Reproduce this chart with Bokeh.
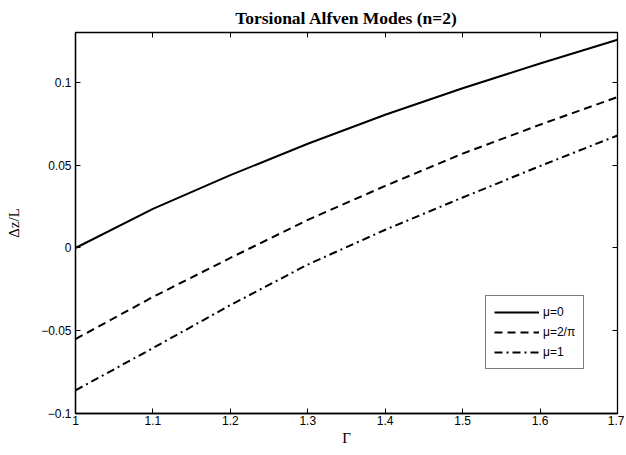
from bokeh.plotting import figure
from bokeh.models import LinearAxis, Range1d, FixedTicker, Legend, LegendItem
from bokeh.embed import file_html
from bokeh.resources import INLINE

gamma = [1.0, 1.1, 1.2, 1.3, 1.4, 1.5, 1.6, 1.7]
mu0 = [0.0, 0.0236, 0.044, 0.063, 0.0805, 0.0965, 0.1115, 0.1258]
mu2pi = [-0.055, -0.0296, -0.006, 0.017, 0.0375, 0.057, 0.0745, 0.0912]
mu1 = [-0.086, -0.0605, -0.0345, -0.010, 0.011, 0.0305, 0.0495, 0.068]
xticks = [1.0, 1.1, 1.2, 1.3, 1.4, 1.5, 1.6, 1.7]
yticks = [-0.1, -0.05, 0.0, 0.05, 0.1]
ytick_labels = {-0.1: "\u22120.1", -0.05: "\u22120.05", 0.0: "0", 0.05: "0.05", 0.1: "0.1"}
xtick_labels = {1.0: "1", 1.1: "1.1", 1.2: "1.2", 1.3: "1.3", 1.4: "1.4", 1.5: "1.5", 1.6: "1.6", 1.7: "1.7"}

p = figure(width=624, height=453, output_backend="svg", toolbar_location=None,
           x_range=Range1d(1.0, 1.7), y_range=Range1d(-0.1, 0.1302),
           title="Torsional Alfven Modes (n=2)", x_axis_label="\u0393", y_axis_label="\u0394z/L")
p.min_border_left = 75
p.min_border_right = 7
p.min_border_top = 32
p.min_border_bottom = 40
p.title.align = "center"
p.title.text_font = "Liberation Serif"
p.title.text_font_size = "17.5px"
p.title.text_font_style = "bold"
p.title.text_color = "black"
p.title.offset = 0
p.xgrid.visible = False
p.ygrid.visible = False
p.outline_line_color = "black"
p.outline_line_width = 1.3
p.background_fill_color = "white"
p.border_fill_color = "white"

for ax in p.xaxis:
    ax.ticker = FixedTicker(ticks=xticks)
    ax.major_label_overrides = xtick_labels
    ax.major_label_standoff = 2
    ax.axis_label_standoff = 2
for ax in p.yaxis:
    ax.ticker = FixedTicker(ticks=yticks)
    ax.major_label_overrides = ytick_labels
    ax.major_label_standoff = 4
    ax.axis_label_standoff = 16

for ax in list(p.xaxis) + list(p.yaxis):
    ax.major_tick_in = 5
    ax.major_tick_out = 0
    ax.minor_tick_in = 0
    ax.minor_tick_out = 0
    ax.axis_line_width = 1.3
    ax.axis_line_color = "black"
    ax.major_tick_line_color = "black"
    ax.major_tick_line_width = 1
    ax.major_label_text_font = "Liberation Sans"
    ax.major_label_text_font_size = "12px"
    ax.major_label_text_color = "black"
    ax.axis_label_text_font = "Liberation Serif"
    ax.axis_label_text_font_size = "15px"
    ax.axis_label_text_font_style = "normal"
    ax.axis_label_text_color = "black"

top = LinearAxis(ticker=FixedTicker(ticks=xticks),
                 major_label_overrides={t: "" for t in xticks},
                 major_tick_in=5, major_tick_out=0, minor_tick_in=0, minor_tick_out=0,
                 major_tick_line_color="black",
                 axis_line_color=None, major_label_standoff=0)
right = LinearAxis(ticker=FixedTicker(ticks=yticks),
                   major_label_overrides={t: "" for t in yticks},
                   major_tick_in=5, major_tick_out=0, minor_tick_in=0, minor_tick_out=0,
                   major_tick_line_color="black",
                   axis_line_color=None, major_label_standoff=0)
p.add_layout(top, "above")
p.add_layout(right, "right")

r0 = p.line(gamma, mu0, line_color="black", line_width=2)
r1 = p.line(gamma, mu2pi, line_color="black", line_width=2, line_dash="8 5")
r2 = p.line(gamma, mu1, line_color="black", line_width=2, line_dash="8 4 2 4")

legend = Legend(items=[LegendItem(label="\u03bc=0", renderers=[r0]),
                       LegendItem(label="\u03bc=2/\u03c0", renderers=[r1]),
                       LegendItem(label="\u03bc=1", renderers=[r2])],
                location=(410, 44))
legend.border_line_color = "black"
legend.border_line_width = 1.2
legend.label_text_font = "Liberation Sans"
legend.label_text_font_size = "12px"
legend.label_text_color = "black"
legend.glyph_width = 45
legend.glyph_height = 16
legend.label_standoff = 4
legend.label_height = 16
legend.spacing = 4
legend.padding = 8
legend.margin = 0
legend.background_fill_alpha = 1
p.add_layout(legend, "center")

open("out.html", "w").write(file_html(p, INLINE))
